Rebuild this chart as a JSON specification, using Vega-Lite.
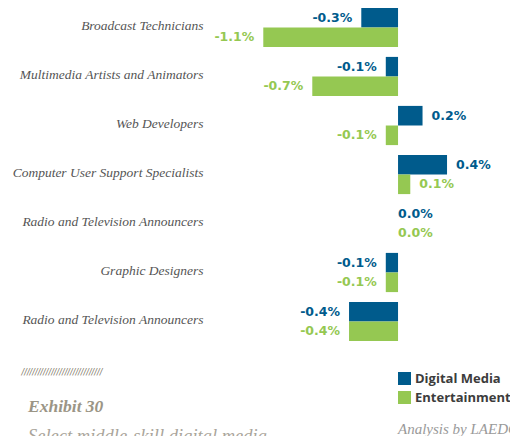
{
  "$schema": "https://vega.github.io/schema/vega-lite/v6.json",
  "width": 300,
  "height": 343,
  "autosize": {"type": "none"},
  "padding": {"left": 210, "top": 3, "right": 0, "bottom": 90},
  "background": "white",
  "config": {
    "view": {"stroke": null},
    "locale": {"number": {"decimal": ".", "thousands": ",", "grouping": [3], "currency": ["$", ""], "minus": "-"}}
  },
  "title": {
    "text": "Exhibit 30",
    "subtitle": "Select middle-skill digital media",
    "orient": "bottom",
    "anchor": "start",
    "frame": "group",
    "dx": -182,
    "dy": -39,
    "offset": 0,
    "font": "Liberation Serif",
    "fontStyle": "italic",
    "fontWeight": "bold",
    "fontSize": 17.5,
    "color": "#9b9586",
    "subtitleFont": "Liberation Serif",
    "subtitleFontStyle": "italic",
    "subtitleFontSize": 18.5,
    "subtitleColor": "#aaa59b",
    "subtitlePadding": 11
  },
  "data": {
    "values": [
      {"occupation": "Broadcast Technicians", "series": "Digital Media", "value": -0.003},
      {"occupation": "Broadcast Technicians", "series": "Entertainment", "value": -0.011},
      {"occupation": "Multimedia Artists and Animators", "series": "Digital Media", "value": -0.001},
      {"occupation": "Multimedia Artists and Animators", "series": "Entertainment", "value": -0.007},
      {"occupation": "Web Developers", "series": "Digital Media", "value": 0.002},
      {"occupation": "Web Developers", "series": "Entertainment", "value": -0.001},
      {"occupation": "Computer User Support Specialists", "series": "Digital Media", "value": 0.004},
      {"occupation": "Computer User Support Specialists", "series": "Entertainment", "value": 0.001},
      {"occupation": "Radio and Television Announcers", "series": "Digital Media", "value": 0.0},
      {"occupation": "Radio and Television Announcers", "series": "Entertainment", "value": 0.0},
      {"occupation": "Graphic Designers", "series": "Digital Media", "value": -0.001},
      {"occupation": "Graphic Designers", "series": "Entertainment", "value": -0.001},
      {"occupation": "Radio and Television Announcers (2)", "series": "Digital Media", "value": -0.004},
      {"occupation": "Radio and Television Announcers (2)", "series": "Entertainment", "value": -0.004}
    ]
  },
  "encoding": {
    "y": {
      "field": "occupation",
      "type": "nominal",
      "sort": null,
      "scale": {"paddingInner": 0.2, "paddingOuter": 0.1},
      "axis": {
        "title": null,
        "domain": false,
        "ticks": false,
        "grid": false,
        "labelPadding": 7,
        "labelLimit": 300,
        "labelFont": "Liberation Serif",
        "labelFontStyle": "italic",
        "labelFontSize": 13.5,
        "labelColor": "#555555",
        "labelOffset": -2,
        "labelExpr": "replace(datum.label, ' (2)', '')"
      }
    },
    "yOffset": {
      "field": "series",
      "type": "nominal",
      "sort": ["Digital Media", "Entertainment"],
      "scale": {"paddingInner": 0, "paddingOuter": 0}
    },
    "x": {
      "field": "value",
      "type": "quantitative",
      "scale": {"domain": [-0.01535, 0.00914], "nice": false, "zero": false},
      "axis": {
        "orient": "bottom",
        "labels": false,
        "ticks": false,
        "domain": false,
        "grid": false,
        "title": "//////////////////////////////",
        "titleX": -189,
        "titleY": 22,
        "titleAlign": "left",
        "titleAnchor": "start",
        "titleBaseline": "top",
        "titleFont": "DejaVu Sans",
        "titleFontStyle": "italic",
        "titleFontWeight": "normal",
        "titleFontSize": 8,
        "titleColor": "#7d7565"
      }
    }
  },
  "layer": [
    {
      "mark": {"type": "bar"},
      "encoding": {
        "color": {
          "field": "series",
          "type": "nominal",
          "scale": {"domain": ["Digital Media", "Entertainment"], "range": ["#005b8c", "#95c852"]},
          "legend": {
            "orient": "none",
            "legendX": 188,
            "legendY": 369,
            "direction": "vertical",
            "symbolType": "square",
            "symbolSize": 169,
            "symbolStrokeWidth": 0,
            "symbolOpacity": 1,
            "labelFont": "Open Sans",
            "labelFontWeight": "bold",
            "labelFontSize": 13,
            "labelColor": "#3c3c3c",
            "labelOffset": 4,
            "rowPadding": 5,
            "padding": 0,
            "title": "Analysis by LAEDC",
            "titleOrient": "bottom",
            "titleAnchor": "start",
            "titleFont": "Liberation Serif",
            "titleFontStyle": "italic",
            "titleFontWeight": "normal",
            "titleFontSize": 15,
            "titleColor": "#9a9a9a",
            "titlePadding": 17
          }
        }
      }
    },
    {
      "transform": [{"filter": "datum.value < 0"}],
      "mark": {"type": "text", "align": "right", "baseline": "middle", "dx": -9, "font": "DejaVu Sans", "fontWeight": "bold", "fontSize": 12.5},
      "encoding": {
        "text": {"field": "value", "type": "quantitative", "format": ".1%"},
        "color": {"field": "series", "type": "nominal", "legend": null}
      }
    },
    {
      "transform": [{"filter": "datum.value > 0"}],
      "mark": {"type": "text", "align": "left", "baseline": "middle", "dx": 9, "font": "DejaVu Sans", "fontWeight": "bold", "fontSize": 12.5},
      "encoding": {
        "text": {"field": "value", "type": "quantitative", "format": ".1%"},
        "color": {"field": "series", "type": "nominal", "legend": null}
      }
    },
    {
      "transform": [{"filter": "datum.value == 0"}],
      "mark": {"type": "text", "align": "left", "baseline": "middle", "dx": 0, "font": "DejaVu Sans", "fontWeight": "bold", "fontSize": 12.5},
      "encoding": {
        "text": {"field": "value", "type": "quantitative", "format": ".1%"},
        "color": {"field": "series", "type": "nominal", "legend": null}
      }
    }
  ]
}
